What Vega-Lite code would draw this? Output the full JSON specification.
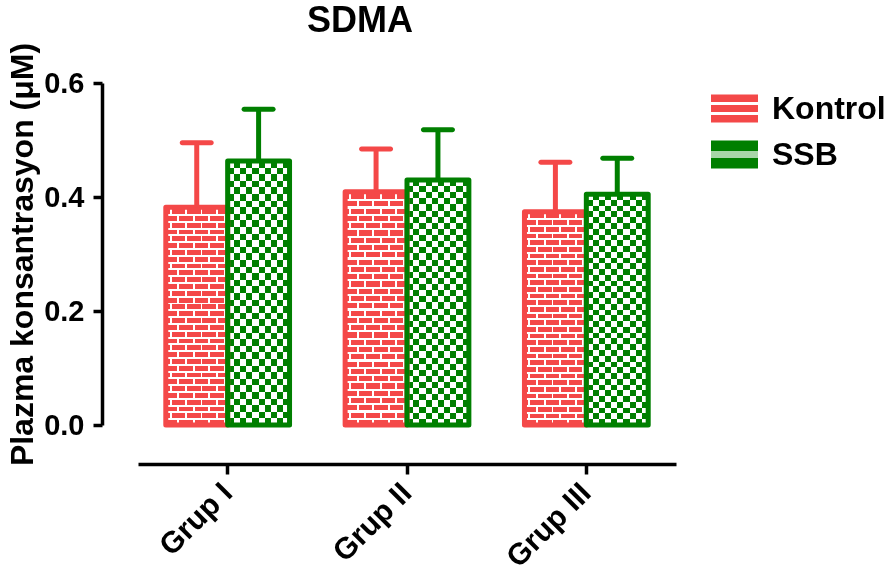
{
  "$schema": "https://vega.github.io/schema/vega-lite/v6.json",
  "autosize": {"type": "none"},
  "width": 538,
  "height": 342,
  "padding": {"left": 138, "top": 83, "right": 220, "bottom": 154},
  "background": "white",
  "config": {"view": {"stroke": null}, "font": "Liberation Sans"},
  "title": {"text": "SDMA", "fontSize": 36, "fontWeight": "bold", "font": "Liberation Sans", "color": "black", "anchor": "middle", "frame": "group", "dx": -47, "offset": 2},
  "data": {"values": [
    {"grup": "Grup I", "grp": "Kontrol", "mean": 0.382, "upper": 0.495},
    {"grup": "Grup I", "grp": "SSB", "mean": 0.463, "upper": 0.554},
    {"grup": "Grup II", "grp": "Kontrol", "mean": 0.409, "upper": 0.484},
    {"grup": "Grup II", "grp": "SSB", "mean": 0.430, "upper": 0.518},
    {"grup": "Grup III", "grp": "Kontrol", "mean": 0.374, "upper": 0.461},
    {"grup": "Grup III", "grp": "SSB", "mean": 0.405, "upper": 0.468}
  ]},
  "encoding": {
    "x": {"field": "grup", "type": "nominal", "sort": ["Grup I", "Grup II", "Grup III"],
      "scale": {"paddingInner": 0.31, "paddingOuter": 0.155},
      "axis": {"title": null, "offset": 39, "domainColor": "black", "domainWidth": 3.5, "tickColor": "black", "tickWidth": 3.5, "tickSize": 10, "labelAngle": -45, "labelAlign": "right", "labelBaseline": "middle", "labelFontSize": 30, "labelFont": "Liberation Sans", "labelFontWeight": "bold", "labelColor": "black", "labelPadding": 14}},
    "xOffset": {"field": "grp", "type": "nominal", "scale": {"domain": ["Kontrol", "SSB"], "paddingInner": 0, "paddingOuter": 0}},
    "y": {"field": "mean", "type": "quantitative", "title": "Plazma konsantrasyon (μM)",
      "scale": {"domain": [0, 0.6], "nice": false},
      "axis": {"values": [0, 0.2, 0.4, 0.6], "format": ".1f", "offset": 36, "grid": false, "domainColor": "black", "domainWidth": 3.5, "tickColor": "black", "tickWidth": 3.5, "tickSize": 9, "labelFontSize": 29, "labelFont": "Liberation Sans", "labelFontWeight": "bold", "labelColor": "black", "labelPadding": 9, "titleFontSize": 32, "titleFont": "Liberation Sans", "titleFontWeight": "bold", "titleColor": "black", "titlePadding": 4}}
  },
  "layer": [
    {"mark": {"type": "bar", "opacity": 0},
     "encoding": {"fill": {"field": "grp", "type": "nominal",
       "scale": {"domain": ["Kontrol", "SSB"], "range": [
         {"expr": "{gradient: 'linear', x1: 0, y1: 0, x2: 0, y2: 1, stops: [{offset: 0, color: '#f44848'}, {offset: 0.28, color: '#f44848'}, {offset: 0.28, color: '#ffffff'}, {offset: 0.36, color: '#ffffff'}, {offset: 0.36, color: '#f44848'}, {offset: 0.64, color: '#f44848'}, {offset: 0.64, color: '#ffffff'}, {offset: 0.72, color: '#ffffff'}, {offset: 0.72, color: '#f44848'}, {offset: 1, color: '#f44848'}]}"},
         {"expr": "{gradient: 'linear', x1: 0, y1: 0, x2: 0, y2: 1, stops: [{offset: 0, color: '#007f00'}, {offset: 0.36, color: '#007f00'}, {offset: 0.36, color: '#a8d6a8'}, {offset: 0.64, color: '#a8d6a8'}, {offset: 0.64, color: '#007f00'}, {offset: 1, color: '#007f00'}]}"}
       ]},
       "legend": {"orient": "none", "legendX": 573, "legendY": 2, "title": null,
         "symbolType": "M-1,-0.6H1V0.6H-1Z", "symbolSize": 2209, "symbolStrokeWidth": 0, "symbolOpacity": 1,
         "labelFontSize": 32, "labelFont": "Liberation Sans", "labelFontWeight": "bold", "labelColor": "black", "labelOffset": 14, "rowPadding": 6}}}},
    {"transform": [{"filter": "datum.grp === 'Kontrol'"}],
     "mark": {"type": "bar", "fill": {"gradient": "linear", "x1": 0, "y1": 0, "x2": 1, "y2": 0, "stops": [
      {"offset": 0, "color": "#000000"}, {"offset": 0.0625, "color": "#000000"}, {"offset": 0.0625, "color": "#ffffff"}, {"offset": 0.0925, "color": "#ffffff"}, {"offset": 0.0925, "color": "#000000"},
      {"offset": 0.1875, "color": "#000000"}, {"offset": 0.1875, "color": "#ffffff"}, {"offset": 0.2175, "color": "#ffffff"}, {"offset": 0.2175, "color": "#000000"},
      {"offset": 0.3125, "color": "#000000"}, {"offset": 0.3125, "color": "#ffffff"}, {"offset": 0.3425, "color": "#ffffff"}, {"offset": 0.3425, "color": "#000000"},
      {"offset": 0.4375, "color": "#000000"}, {"offset": 0.4375, "color": "#ffffff"}, {"offset": 0.4675, "color": "#ffffff"}, {"offset": 0.4675, "color": "#000000"},
      {"offset": 0.5625, "color": "#000000"}, {"offset": 0.5625, "color": "#ffffff"}, {"offset": 0.5925, "color": "#ffffff"}, {"offset": 0.5925, "color": "#000000"},
      {"offset": 0.6875, "color": "#000000"}, {"offset": 0.6875, "color": "#ffffff"}, {"offset": 0.7175, "color": "#ffffff"}, {"offset": 0.7175, "color": "#000000"},
      {"offset": 0.8125, "color": "#000000"}, {"offset": 0.8125, "color": "#ffffff"}, {"offset": 0.8425, "color": "#ffffff"}, {"offset": 0.8425, "color": "#000000"},
      {"offset": 0.9375, "color": "#000000"}, {"offset": 0.9375, "color": "#ffffff"}, {"offset": 0.9675, "color": "#ffffff"}, {"offset": 0.9675, "color": "#000000"},
      {"offset": 1, "color": "#000000"}]}}},
    {"transform": [{"filter": "datum.grp === 'Kontrol'"}],
     "mark": {"type": "bar", "blend": "multiply", "fill": {"gradient": "linear", "x1": 0, "y1": 0, "x2": 0, "y2": 1, "stops": [
      {"offset": 0, "color": "#000000"}, {"offset": 0.03125, "color": "#000000"}, {"offset": 0.03125, "color": "#ffffff"}, {"offset": 0.0625, "color": "#ffffff"},
      {"offset": 0.0625, "color": "#000000"}, {"offset": 0.09375, "color": "#000000"}, {"offset": 0.09375, "color": "#ffffff"}, {"offset": 0.125, "color": "#ffffff"},
      {"offset": 0.125, "color": "#000000"}, {"offset": 0.15625, "color": "#000000"}, {"offset": 0.15625, "color": "#ffffff"}, {"offset": 0.1875, "color": "#ffffff"},
      {"offset": 0.1875, "color": "#000000"}, {"offset": 0.21875, "color": "#000000"}, {"offset": 0.21875, "color": "#ffffff"}, {"offset": 0.25, "color": "#ffffff"},
      {"offset": 0.25, "color": "#000000"}, {"offset": 0.28125, "color": "#000000"}, {"offset": 0.28125, "color": "#ffffff"}, {"offset": 0.3125, "color": "#ffffff"},
      {"offset": 0.3125, "color": "#000000"}, {"offset": 0.34375, "color": "#000000"}, {"offset": 0.34375, "color": "#ffffff"}, {"offset": 0.375, "color": "#ffffff"},
      {"offset": 0.375, "color": "#000000"}, {"offset": 0.40625, "color": "#000000"}, {"offset": 0.40625, "color": "#ffffff"}, {"offset": 0.4375, "color": "#ffffff"},
      {"offset": 0.4375, "color": "#000000"}, {"offset": 0.46875, "color": "#000000"}, {"offset": 0.46875, "color": "#ffffff"}, {"offset": 0.5, "color": "#ffffff"},
      {"offset": 0.5, "color": "#000000"}, {"offset": 0.53125, "color": "#000000"}, {"offset": 0.53125, "color": "#ffffff"}, {"offset": 0.5625, "color": "#ffffff"},
      {"offset": 0.5625, "color": "#000000"}, {"offset": 0.59375, "color": "#000000"}, {"offset": 0.59375, "color": "#ffffff"}, {"offset": 0.625, "color": "#ffffff"},
      {"offset": 0.625, "color": "#000000"}, {"offset": 0.65625, "color": "#000000"}, {"offset": 0.65625, "color": "#ffffff"}, {"offset": 0.6875, "color": "#ffffff"},
      {"offset": 0.6875, "color": "#000000"}, {"offset": 0.71875, "color": "#000000"}, {"offset": 0.71875, "color": "#ffffff"}, {"offset": 0.75, "color": "#ffffff"},
      {"offset": 0.75, "color": "#000000"}, {"offset": 0.78125, "color": "#000000"}, {"offset": 0.78125, "color": "#ffffff"}, {"offset": 0.8125, "color": "#ffffff"},
      {"offset": 0.8125, "color": "#000000"}, {"offset": 0.84375, "color": "#000000"}, {"offset": 0.84375, "color": "#ffffff"}, {"offset": 0.875, "color": "#ffffff"},
      {"offset": 0.875, "color": "#000000"}, {"offset": 0.90625, "color": "#000000"}, {"offset": 0.90625, "color": "#ffffff"}, {"offset": 0.9375, "color": "#ffffff"},
      {"offset": 0.9375, "color": "#000000"}, {"offset": 0.96875, "color": "#000000"}, {"offset": 0.96875, "color": "#ffffff"}, {"offset": 1, "color": "#ffffff"}]}}},
    {"transform": [{"filter": "datum.grp === 'Kontrol'"}],
     "mark": {"type": "bar", "blend": "difference", "fill": {"gradient": "linear", "x1": 0, "y1": 0, "x2": 1, "y2": 0, "stops": [
      {"offset": 0, "color": "#000000"}, {"offset": 0.0625, "color": "#000000"}, {"offset": 0.0625, "color": "#ffffff"}, {"offset": 0.0925, "color": "#ffffff"}, {"offset": 0.0925, "color": "#000000"},
      {"offset": 0.3125, "color": "#000000"}, {"offset": 0.3125, "color": "#ffffff"}, {"offset": 0.3425, "color": "#ffffff"}, {"offset": 0.3425, "color": "#000000"},
      {"offset": 0.5625, "color": "#000000"}, {"offset": 0.5625, "color": "#ffffff"}, {"offset": 0.5925, "color": "#ffffff"}, {"offset": 0.5925, "color": "#000000"},
      {"offset": 0.8125, "color": "#000000"}, {"offset": 0.8125, "color": "#ffffff"}, {"offset": 0.8425, "color": "#ffffff"}, {"offset": 0.8425, "color": "#000000"},
      {"offset": 1, "color": "#000000"}]}}},
    {"transform": [{"filter": "datum.grp === 'Kontrol'"}],
     "mark": {"type": "bar", "blend": "screen", "fill": {"gradient": "linear", "x1": 0, "y1": 0, "x2": 0, "y2": 1, "stops": [
      {"offset": 0, "color": "#ffffff"}, {"offset": 0.009, "color": "#ffffff"}, {"offset": 0.009, "color": "#f44848"}, {"offset": 0.03125, "color": "#f44848"},
      {"offset": 0.03125, "color": "#ffffff"}, {"offset": 0.04025, "color": "#ffffff"}, {"offset": 0.04025, "color": "#f44848"}, {"offset": 0.0625, "color": "#f44848"},
      {"offset": 0.0625, "color": "#ffffff"}, {"offset": 0.0715, "color": "#ffffff"}, {"offset": 0.0715, "color": "#f44848"}, {"offset": 0.09375, "color": "#f44848"},
      {"offset": 0.09375, "color": "#ffffff"}, {"offset": 0.10275, "color": "#ffffff"}, {"offset": 0.10275, "color": "#f44848"}, {"offset": 0.125, "color": "#f44848"},
      {"offset": 0.125, "color": "#ffffff"}, {"offset": 0.134, "color": "#ffffff"}, {"offset": 0.134, "color": "#f44848"}, {"offset": 0.15625, "color": "#f44848"},
      {"offset": 0.15625, "color": "#ffffff"}, {"offset": 0.16525, "color": "#ffffff"}, {"offset": 0.16525, "color": "#f44848"}, {"offset": 0.1875, "color": "#f44848"},
      {"offset": 0.1875, "color": "#ffffff"}, {"offset": 0.1965, "color": "#ffffff"}, {"offset": 0.1965, "color": "#f44848"}, {"offset": 0.21875, "color": "#f44848"},
      {"offset": 0.21875, "color": "#ffffff"}, {"offset": 0.22775, "color": "#ffffff"}, {"offset": 0.22775, "color": "#f44848"}, {"offset": 0.25, "color": "#f44848"},
      {"offset": 0.25, "color": "#ffffff"}, {"offset": 0.259, "color": "#ffffff"}, {"offset": 0.259, "color": "#f44848"}, {"offset": 0.28125, "color": "#f44848"},
      {"offset": 0.28125, "color": "#ffffff"}, {"offset": 0.29025, "color": "#ffffff"}, {"offset": 0.29025, "color": "#f44848"}, {"offset": 0.3125, "color": "#f44848"},
      {"offset": 0.3125, "color": "#ffffff"}, {"offset": 0.3215, "color": "#ffffff"}, {"offset": 0.3215, "color": "#f44848"}, {"offset": 0.34375, "color": "#f44848"},
      {"offset": 0.34375, "color": "#ffffff"}, {"offset": 0.35275, "color": "#ffffff"}, {"offset": 0.35275, "color": "#f44848"}, {"offset": 0.375, "color": "#f44848"},
      {"offset": 0.375, "color": "#ffffff"}, {"offset": 0.384, "color": "#ffffff"}, {"offset": 0.384, "color": "#f44848"}, {"offset": 0.40625, "color": "#f44848"},
      {"offset": 0.40625, "color": "#ffffff"}, {"offset": 0.41525, "color": "#ffffff"}, {"offset": 0.41525, "color": "#f44848"}, {"offset": 0.4375, "color": "#f44848"},
      {"offset": 0.4375, "color": "#ffffff"}, {"offset": 0.4465, "color": "#ffffff"}, {"offset": 0.4465, "color": "#f44848"}, {"offset": 0.46875, "color": "#f44848"},
      {"offset": 0.46875, "color": "#ffffff"}, {"offset": 0.47775, "color": "#ffffff"}, {"offset": 0.47775, "color": "#f44848"}, {"offset": 0.5, "color": "#f44848"},
      {"offset": 0.5, "color": "#ffffff"}, {"offset": 0.509, "color": "#ffffff"}, {"offset": 0.509, "color": "#f44848"}, {"offset": 0.53125, "color": "#f44848"},
      {"offset": 0.53125, "color": "#ffffff"}, {"offset": 0.54025, "color": "#ffffff"}, {"offset": 0.54025, "color": "#f44848"}, {"offset": 0.5625, "color": "#f44848"},
      {"offset": 0.5625, "color": "#ffffff"}, {"offset": 0.5715, "color": "#ffffff"}, {"offset": 0.5715, "color": "#f44848"}, {"offset": 0.59375, "color": "#f44848"},
      {"offset": 0.59375, "color": "#ffffff"}, {"offset": 0.60275, "color": "#ffffff"}, {"offset": 0.60275, "color": "#f44848"}, {"offset": 0.625, "color": "#f44848"},
      {"offset": 0.625, "color": "#ffffff"}, {"offset": 0.634, "color": "#ffffff"}, {"offset": 0.634, "color": "#f44848"}, {"offset": 0.65625, "color": "#f44848"},
      {"offset": 0.65625, "color": "#ffffff"}, {"offset": 0.66525, "color": "#ffffff"}, {"offset": 0.66525, "color": "#f44848"}, {"offset": 0.6875, "color": "#f44848"},
      {"offset": 0.6875, "color": "#ffffff"}, {"offset": 0.6965, "color": "#ffffff"}, {"offset": 0.6965, "color": "#f44848"}, {"offset": 0.71875, "color": "#f44848"},
      {"offset": 0.71875, "color": "#ffffff"}, {"offset": 0.72775, "color": "#ffffff"}, {"offset": 0.72775, "color": "#f44848"}, {"offset": 0.75, "color": "#f44848"},
      {"offset": 0.75, "color": "#ffffff"}, {"offset": 0.759, "color": "#ffffff"}, {"offset": 0.759, "color": "#f44848"}, {"offset": 0.78125, "color": "#f44848"},
      {"offset": 0.78125, "color": "#ffffff"}, {"offset": 0.79025, "color": "#ffffff"}, {"offset": 0.79025, "color": "#f44848"}, {"offset": 0.8125, "color": "#f44848"},
      {"offset": 0.8125, "color": "#ffffff"}, {"offset": 0.8215, "color": "#ffffff"}, {"offset": 0.8215, "color": "#f44848"}, {"offset": 0.84375, "color": "#f44848"},
      {"offset": 0.84375, "color": "#ffffff"}, {"offset": 0.85275, "color": "#ffffff"}, {"offset": 0.85275, "color": "#f44848"}, {"offset": 0.875, "color": "#f44848"},
      {"offset": 0.875, "color": "#ffffff"}, {"offset": 0.884, "color": "#ffffff"}, {"offset": 0.884, "color": "#f44848"}, {"offset": 0.90625, "color": "#f44848"},
      {"offset": 0.90625, "color": "#ffffff"}, {"offset": 0.91525, "color": "#ffffff"}, {"offset": 0.91525, "color": "#f44848"}, {"offset": 0.9375, "color": "#f44848"},
      {"offset": 0.9375, "color": "#ffffff"}, {"offset": 0.9465, "color": "#ffffff"}, {"offset": 0.9465, "color": "#f44848"}, {"offset": 0.96875, "color": "#f44848"},
      {"offset": 0.96875, "color": "#ffffff"}, {"offset": 0.97775, "color": "#ffffff"}, {"offset": 0.97775, "color": "#f44848"}, {"offset": 1, "color": "#f44848"}]}}},
    {"transform": [{"filter": "datum.grp === 'SSB'"}],
     "mark": {"type": "bar", "fill": {"gradient": "linear", "x1": 0, "y1": 0, "x2": 0, "y2": 1, "stops": [
      {"offset": 0, "color": "#000000"}, {"offset": 0.025, "color": "#000000"}, {"offset": 0.025, "color": "#ffffff"}, {"offset": 0.05, "color": "#ffffff"},
      {"offset": 0.05, "color": "#000000"}, {"offset": 0.075, "color": "#000000"}, {"offset": 0.075, "color": "#ffffff"}, {"offset": 0.1, "color": "#ffffff"},
      {"offset": 0.1, "color": "#000000"}, {"offset": 0.125, "color": "#000000"}, {"offset": 0.125, "color": "#ffffff"}, {"offset": 0.15, "color": "#ffffff"},
      {"offset": 0.15, "color": "#000000"}, {"offset": 0.175, "color": "#000000"}, {"offset": 0.175, "color": "#ffffff"}, {"offset": 0.2, "color": "#ffffff"},
      {"offset": 0.2, "color": "#000000"}, {"offset": 0.225, "color": "#000000"}, {"offset": 0.225, "color": "#ffffff"}, {"offset": 0.25, "color": "#ffffff"},
      {"offset": 0.25, "color": "#000000"}, {"offset": 0.275, "color": "#000000"}, {"offset": 0.275, "color": "#ffffff"}, {"offset": 0.3, "color": "#ffffff"},
      {"offset": 0.3, "color": "#000000"}, {"offset": 0.325, "color": "#000000"}, {"offset": 0.325, "color": "#ffffff"}, {"offset": 0.35, "color": "#ffffff"},
      {"offset": 0.35, "color": "#000000"}, {"offset": 0.375, "color": "#000000"}, {"offset": 0.375, "color": "#ffffff"}, {"offset": 0.4, "color": "#ffffff"},
      {"offset": 0.4, "color": "#000000"}, {"offset": 0.425, "color": "#000000"}, {"offset": 0.425, "color": "#ffffff"}, {"offset": 0.45, "color": "#ffffff"},
      {"offset": 0.45, "color": "#000000"}, {"offset": 0.475, "color": "#000000"}, {"offset": 0.475, "color": "#ffffff"}, {"offset": 0.5, "color": "#ffffff"},
      {"offset": 0.5, "color": "#000000"}, {"offset": 0.525, "color": "#000000"}, {"offset": 0.525, "color": "#ffffff"}, {"offset": 0.55, "color": "#ffffff"},
      {"offset": 0.55, "color": "#000000"}, {"offset": 0.575, "color": "#000000"}, {"offset": 0.575, "color": "#ffffff"}, {"offset": 0.6, "color": "#ffffff"},
      {"offset": 0.6, "color": "#000000"}, {"offset": 0.625, "color": "#000000"}, {"offset": 0.625, "color": "#ffffff"}, {"offset": 0.65, "color": "#ffffff"},
      {"offset": 0.65, "color": "#000000"}, {"offset": 0.675, "color": "#000000"}, {"offset": 0.675, "color": "#ffffff"}, {"offset": 0.7, "color": "#ffffff"},
      {"offset": 0.7, "color": "#000000"}, {"offset": 0.725, "color": "#000000"}, {"offset": 0.725, "color": "#ffffff"}, {"offset": 0.75, "color": "#ffffff"},
      {"offset": 0.75, "color": "#000000"}, {"offset": 0.775, "color": "#000000"}, {"offset": 0.775, "color": "#ffffff"}, {"offset": 0.8, "color": "#ffffff"},
      {"offset": 0.8, "color": "#000000"}, {"offset": 0.825, "color": "#000000"}, {"offset": 0.825, "color": "#ffffff"}, {"offset": 0.85, "color": "#ffffff"},
      {"offset": 0.85, "color": "#000000"}, {"offset": 0.875, "color": "#000000"}, {"offset": 0.875, "color": "#ffffff"}, {"offset": 0.9, "color": "#ffffff"},
      {"offset": 0.9, "color": "#000000"}, {"offset": 0.925, "color": "#000000"}, {"offset": 0.925, "color": "#ffffff"}, {"offset": 0.95, "color": "#ffffff"},
      {"offset": 0.95, "color": "#000000"}, {"offset": 0.975, "color": "#000000"}, {"offset": 0.975, "color": "#ffffff"}, {"offset": 1, "color": "#ffffff"}]}}},
    {"transform": [{"filter": "datum.grp === 'SSB'"}],
     "mark": {"type": "bar", "blend": "difference", "fill": {"gradient": "linear", "x1": 0, "y1": 0, "x2": 1, "y2": 0, "stops": [
      {"offset": 0, "color": "#ffffff"}, {"offset": 0.1, "color": "#ffffff"}, {"offset": 0.1, "color": "#000000"}, {"offset": 0.2, "color": "#000000"},
      {"offset": 0.2, "color": "#ffffff"}, {"offset": 0.3, "color": "#ffffff"}, {"offset": 0.3, "color": "#000000"}, {"offset": 0.4, "color": "#000000"},
      {"offset": 0.4, "color": "#ffffff"}, {"offset": 0.5, "color": "#ffffff"}, {"offset": 0.5, "color": "#000000"}, {"offset": 0.6, "color": "#000000"},
      {"offset": 0.6, "color": "#ffffff"}, {"offset": 0.7, "color": "#ffffff"}, {"offset": 0.7, "color": "#000000"}, {"offset": 0.8, "color": "#000000"},
      {"offset": 0.8, "color": "#ffffff"}, {"offset": 0.9, "color": "#ffffff"}, {"offset": 0.9, "color": "#000000"}, {"offset": 1, "color": "#000000"}]}}},
    {"transform": [{"filter": "datum.grp === 'SSB'"}],
     "mark": {"type": "bar", "blend": "screen", "fill": "#007f00"}},
    {"mark": {"type": "bar", "filled": false, "strokeWidth": 5, "strokeJoin": "round"},
     "encoding": {"color": {"field": "grp", "type": "nominal",
       "scale": {"domain": ["Kontrol", "SSB"], "range": ["#f44848", "#007f00"]}, "legend": null}}},
    {"mark": {"type": "rule", "strokeWidth": 5, "opacity": 1},
     "encoding": {"y2": {"field": "upper"}, "color": {"field": "grp", "type": "nominal", "legend": null}}},
    {"mark": {"type": "tick", "size": 34, "thickness": 5, "cornerRadius": 2.5, "orient": "horizontal", "opacity": 1},
     "encoding": {"y": {"field": "upper", "type": "quantitative", "title": "Plazma konsantrasyon (μM)"}, "color": {"field": "grp", "type": "nominal", "legend": null}}}
  ]
}
